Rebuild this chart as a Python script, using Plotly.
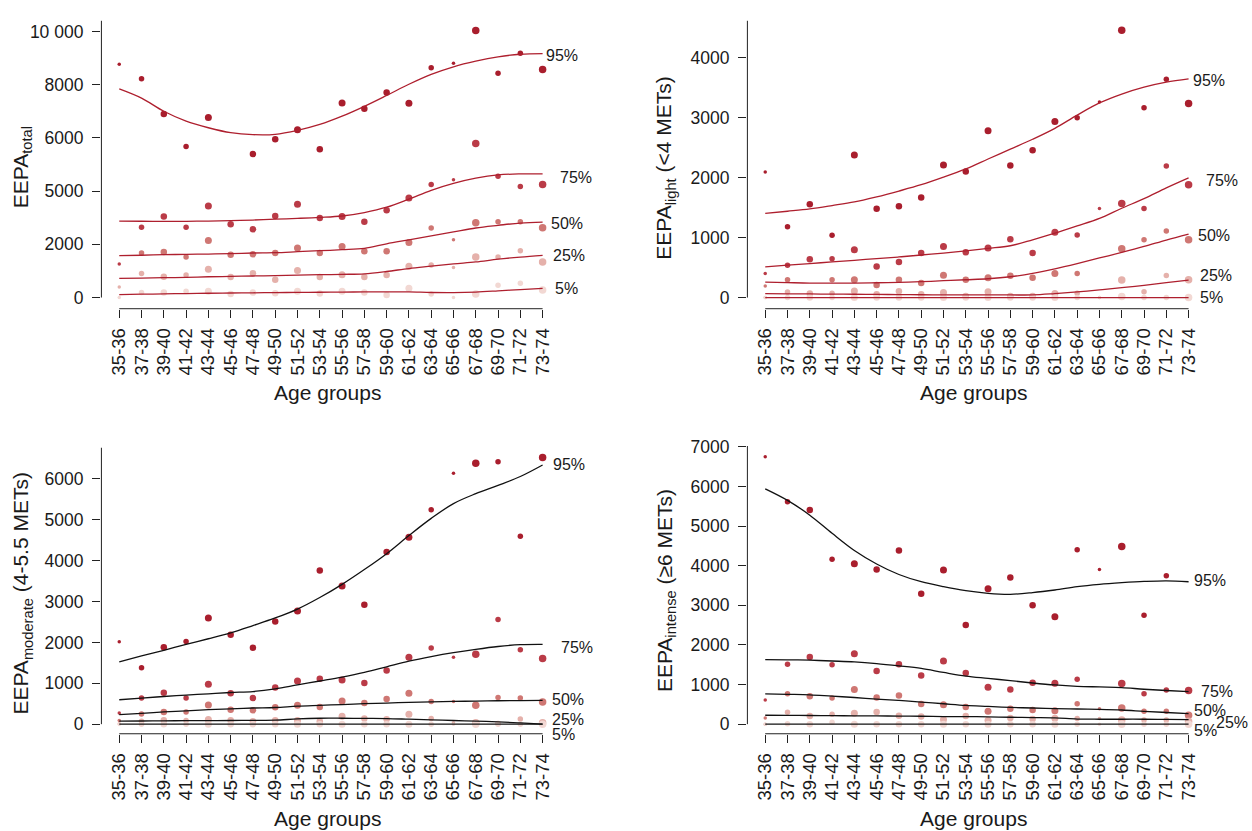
import plotly.graph_objects as go

# ---------------- data ----------------
age_groups = ["35-36", "37-38", "39-40", "41-42", "43-44", "45-46", "47-48", "49-50", "51-52", "53-54",
              "55-56", "57-58", "59-60", "61-62", "63-64", "65-66", "67-68", "69-70", "71-72", "73-74"]
percentiles = ["95%", "75%", "50%", "25%", "5%"]

# EEPA total - observed percentiles
total_p95 = [8772, 8227, 6901, 5675, 6765, None, 5390, 5947, 6307, 5576, 7310, 7099, 7706, 7298, 8636, 8809, 10036, 8425, 9181, 8574]
total_p75 = [1264, 2639, 3048, 2639, 3444, 2750, 2565, 3060, 3506, 2986, 3048, 2850, 3283, 3742, 4250, 4423, 5786, 4559, 4175, 4250]
total_p50 = [None, 1673, 1710, 1524, 2143, 1611, 1623, 1673, 1859, 1673, 1920, 1735, 1735, 2069, 2614, 2168, 2813, 2850, 2850, 2627]
total_p25 = [396, 904, 781, 843, 1066, 768, 917, 669, 1016, 768, 855, 768, 843, 1177, 1227, 1128, 1524, 1524, 1759, 1338]
total_p5 = [0, 186, 186, 235, 235, 136, 186, 161, 235, 149, 235, 186, 99, 347, 136, 0, 136, 458, 533, 285]
# EEPA total - fitted curves
total_fit95 = [7843, 7496, 7000, 6629, 6381, 6195, 6121, 6133, 6282, 6505, 6815, 7186, 7595, 8016, 8388, 8673, 8884, 9045, 9144, 9169]
total_fit75 = [2874, 2868, 2864, 2866, 2874, 2887, 2912, 2945, 2975, 3011, 3065, 3195, 3395, 3700, 4030, 4290, 4485, 4609, 4646, 4646]
total_fit50 = [1574, 1590, 1611, 1623, 1635, 1648, 1673, 1685, 1722, 1760, 1797, 1846, 2020, 2168, 2317, 2466, 2614, 2713, 2800, 2837]
total_fit25 = [719, 730, 745, 760, 781, 795, 810, 826, 843, 858, 872, 892, 979, 1090, 1177, 1264, 1338, 1440, 1520, 1586]
total_fit5 = [111, 125, 138, 150, 161, 170, 178, 186, 192, 198, 204, 211, 211, 211, 190, 186, 205, 250, 300, 347]

# EEPA light (<4 METs)
light_p95 = [2096, 1183, 1557, 1040, 2377, 1480, 1524, 1667, 2212, 2102, 2784, 2201, 2459, 2938, 2999, 3263, 4457, 3164, 3642, 3235]
light_p75 = [401, 539, 638, 649, 798, 517, 594, 743, 853, 754, 825, 974, 743, 1089, 1045, 1486, 1568, 1486, 2195, 1882]
light_p50 = [193, 297, None, 297, 297, 209, 297, 242, 374, 297, 330, 363, 330, 402, 402, None, 814, 963, 1111, 963]
light_p25 = [0, 94, 66, 72, 110, 55, 105, 55, 83, 28, 99, 28, 28, 66, 72, 0, 292, 99, 369, 297]
light_p5 = [0, 0, 0, 0, 0, 0, 0, 0, 0, 0, 0, 0, 0, 0, 0, 0, 17, 0, 0, 0]
light_fit95 = [1403, 1440, 1480, 1535, 1595, 1680, 1777, 1882, 2008, 2146, 2311, 2476, 2641, 2823, 3043, 3246, 3395, 3510, 3593, 3648]
light_fit75 = [512, 540, 567, 595, 622, 650, 677, 710, 743, 780, 820, 864, 963, 1073, 1194, 1320, 1490, 1650, 1830, 1997]
light_fit50 = [259, 250, 242, 242, 242, 247, 253, 265, 281, 297, 314, 347, 402, 479, 567, 660, 754, 853, 960, 1060]
light_fit25 = [66, 63, 60, 57, 55, 52, 50, 47, 44, 44, 44, 44, 44, 66, 94, 127, 165, 204, 250, 292]
light_fit5 = [0, 0, 0, 0, 0, 0, 0, 0, 0, 0, 0, 0, 0, 0, 0, 0, 0, 0, 0, 0]

# EEPA moderate (4-5.5 METs)
mod_p95 = [2016, 1379, 1879, 2024, 2597, 2186, 1871, 2508, 2766, 3758, 3379, 2919, 4210, 4573, 5242, 6137, 6379, 6420, 4597, 6525]
mod_p75 = [274, 637, 766, 637, 976, 758, 637, 895, 1056, 1113, 1081, 1008, 1315, 1637, 1863, 1637, 1710, 2557, 1823, 1605]
mod_p50 = [89, 250, 298, 298, 468, 355, 339, 411, 460, 419, 565, 516, 613, 758, 556, 556, 460, 653, 637, 540]
mod_p25 = [8, 73, 97, 89, 113, 97, 73, 97, 89, 73, 194, 137, 121, 242, 137, 32, 32, 16, 129, 32]
mod_p5 = [0, 0, 0, 0, 0, 0, 0, 0, 0, 0, 0, 0, 0, 0, 0, 0, 0, 0, 0, 0]
mod_fit95 = [1524, 1669, 1807, 1952, 2089, 2234, 2411, 2597, 2815, 3097, 3420, 3782, 4170, 4613, 5033, 5395, 5637, 5839, 6057, 6339]
mod_fit75 = [597, 637, 677, 710, 742, 774, 798, 863, 960, 1056, 1153, 1266, 1403, 1540, 1653, 1750, 1831, 1900, 1945, 1952]
mod_fit50 = [234, 266, 298, 327, 355, 375, 395, 407, 440, 460, 480, 500, 516, 532, 545, 556, 565, 573, 578, 580]
mod_fit25 = [73, 77, 81, 85, 87, 89, 93, 97, 129, 145, 145, 140, 137, 121, 105, 89, 73, 56, 30, 0]
mod_fit5 = [0, 0, 0, 0, 0, 0, 0, 0, 0, 0, 0, 0, 0, 0, 0, 0, 0, 0, 0, 0]

# EEPA intense (>=6 METs)
int_p95 = [6750, 5618, 5410, 4162, 4053, 3903, 4386, 3296, 3895, 2505, 3421, 3704, 3005, 2713, 4403, 3903, 4486, 2747, 3746, None]
int_p75 = [608, 1515, 1698, 1498, 1781, 1340, 1515, 1232, 1598, 1290, 932, 874, 1049, 1032, 1132, None, 1024, 766, 866, 849]
int_p50 = [158, 766, 707, 658, 874, 674, 724, 508, 491, 433, 325, 391, 358, 341, 516, 391, 408, 325, 325, 225]
int_p25 = [0, 300, 208, 250, 275, 308, 216, 191, 117, 208, 100, 158, 133, 150, 141, 141, 108, 108, 108, 75]
int_p5 = [0, 8, 0, 50, 0, 0, 0, 0, 0, 0, 0, 0, 0, 0, 0, 0, 0, 0, 0, 0]
int_fit95 = [5942, 5651, 5277, 4819, 4386, 4045, 3779, 3596, 3471, 3371, 3304, 3279, 3321, 3387, 3471, 3529, 3571, 3604, 3620, 3596]
int_fit75 = [1631, 1625, 1615, 1595, 1573, 1531, 1473, 1407, 1307, 1215, 1157, 1099, 1040, 990, 957, 940, 924, 882, 850, 824]
int_fit50 = [766, 755, 741, 707, 674, 632, 599, 558, 516, 474, 449, 424, 408, 391, 383, 375, 358, 325, 295, 266]
int_fit25 = [225, 222, 219, 216, 210, 208, 205, 200, 193, 191, 185, 175, 166, 158, 130, 125, 125, 125, 120, 116]
int_fit5 = [0, 0, 0, 0, 0, 0, 0, 0, 0, 0, 0, 0, 0, 0, 0, 0, 0, 0, 0, 0]

# y tick labels (as printed in the original figure)
total_ticks = [0, 2000, 4000, 6000, 8000, 10000]
total_ticktext = ["0", "2000", "5000", "6000", "8000", "10 000"]
light_ticks = [0, 1000, 2000, 3000, 4000]
mod_ticks = [0, 1000, 2000, 3000, 4000, 5000, 6000]
int_ticks = [0, 1000, 2000, 3000, 4000, 5000, 6000, 7000]

# ---------------- styling ----------------
W, H = 1252, 831
FONT = "Liberation Sans, Arial, Helvetica, sans-serif"
TXT = "#1a1a1a"
dot_colors = ["#A91E2D", "#BA3B47", "#CF7773", "#E5B1AB", "#F2D8D3"]
marker_sizes = [3.5, 5.5, 6.5, 5.5, 7, 6.5, 6.5, 6.5, 7, 6.5, 7, 6.5, 6.5, 7, 5.5, 3.5, 7.5, 5.5, 5.5, 7.5]
X_RANGE = [-0.8, 19.4]
PX_PER_CAT = 22.3

panels = [
    dict(points=[total_p95, total_p75, total_p50, total_p25, total_p5],
         fits=[total_fit95, total_fit75, total_fit50, total_fit25, total_fit5],
         ticks=total_ticks, ticktext=total_ticktext,
         left=101.5, top=11.7, bottom=303, yrange=[-420, 10409], line="#AE1F2E",
         title="EEPA<sub>total</sub>", title_x=22, title_y=160, xtitle_y=387.5,
         lab_y=[9097, 4524, 2777, 1587, 323], lab_dx=[1, 15, 6, 8, 10]),
    dict(points=[light_p95, light_p75, light_p50, light_p25, light_p5],
         fits=[light_fit95, light_fit75, light_fit50, light_fit25, light_fit5],
         ticks=light_ticks, ticktext=[str(v) for v in light_ticks],
         left=748, top=11.7, bottom=303, yrange=[-186, 4620], line="#AE1F2E",
         title="EEPA<sub>light</sub> (&lt;4 METs)", title_x=666, title_y=160, xtitle_y=387.5,
         lab_y=[3625, 1959, 1035, 375, 0], lab_dx=[2, 15, 7, 9, 9]),
    dict(points=[mod_p95, mod_p75, mod_p50, mod_p25, mod_p5],
         fits=[mod_fit95, mod_fit75, mod_fit50, mod_fit25, mod_fit5],
         ticks=mod_ticks, ticktext=[str(v) for v in mod_ticks],
         left=101.5, top=443.3, bottom=732.7, yrange=[-235, 6767], line="#111111",
         title="EEPA<sub>moderate</sub> (4-5.5 METs)", title_x=22, title_y=590, xtitle_y=818,
         lab_y=[6339, 1887, 605, 121, -242], lab_dx=[8, 16, 7, 7, 7]),
    dict(points=[int_p95, int_p75, int_p50, int_p25, int_p5],
         fits=[int_fit95, int_fit75, int_fit50, int_fit25, int_fit5],
         ticks=int_ticks, ticktext=[str(v) for v in int_ticks],
         left=748, top=441.7, bottom=732.7, yrange=[-242, 7025], line="#111111",
         title="EEPA<sub>intense</sub> (≥6 METs)", title_x=666, title_y=588, xtitle_y=818,
         lab_y=[3621, 824, 350, 50, -150], lab_dx=[3, 10, 3, 25, 3]),
]

fig = go.Figure()
x_idx = list(range(len(age_groups)))
width_px = (X_RANGE[1] - X_RANGE[0]) * PX_PER_CAT
annotations = []
shapes = []

for k, p in enumerate(panels, start=1):
    xa = "x" if k == 1 else f"x{k}"
    ya = "y" if k == 1 else f"y{k}"
    y0, y1 = p["yrange"]
    px_per_unit = (p["bottom"] - p["top"]) / (y1 - y0)
    x_last_px = p["left"] + (19 - X_RANGE[0]) * PX_PER_CAT
    # points
    for j in range(5):
        fig.add_trace(go.Scatter(
            x=x_idx, y=p["points"][j], mode="markers", xaxis=xa, yaxis=ya,
            marker=dict(color=dot_colors[j], size=marker_sizes, opacity=1, line=dict(width=0)),
            showlegend=False, hoverinfo="skip", cliponaxis=False))
    # fitted curves + percentile labels
    for j in range(5):
        fig.add_trace(go.Scatter(
            x=x_idx, y=p["fits"][j], mode="lines", xaxis=xa, yaxis=ya,
            line=dict(color=p["line"], width=1.3, shape="spline", smoothing=1.0),
            showlegend=False, hoverinfo="skip", cliponaxis=False))
        lab_px_x = x_last_px + p["lab_dx"][j]
        lab_px_y = p["bottom"] - (p["lab_y"][j] - y0) * px_per_unit
        annotations.append(dict(
            x=lab_px_x / W, y=1 - lab_px_y / H, xref="paper", yref="paper",
            text=percentiles[j], showarrow=False, xanchor="left", yanchor="middle",
            font=dict(family=FONT, size=16, color=TXT)))

    xdom = [p["left"] / W, (p["left"] + width_px) / W]
    ydom = [1 - p["bottom"] / H, 1 - p["top"] / H]
    axis_x = dict(domain=xdom, range=X_RANGE, anchor=ya, tickmode="array",
                  tickvals=x_idx, ticktext=age_groups, tickangle=-90,
                  ticks="outside", ticklen=8, tickwidth=1, tickcolor="#222",
                  ticklabelstandoff=3,
                  showline=False, showgrid=False, zeroline=False,
                  tickfont=dict(family=FONT, size=18.5, color=TXT))
    axis_y = dict(domain=ydom, range=p["yrange"], anchor=xa, tickmode="array",
                  tickvals=p["ticks"], ticktext=p["ticktext"],
                  ticks="outside", ticklen=8.5, tickwidth=1, tickcolor="#222",
                  ticklabelstandoff=5,
                  showline=False, showgrid=False, zeroline=False,
                  tickfont=dict(family=FONT, size=17.5, color=TXT))
    fig.update_layout(**{("xaxis" if k == 1 else f"xaxis{k}"): axis_x,
                         ("yaxis" if k == 1 else f"yaxis{k}"): axis_y})
    # detached axis lines (R style)
    shapes.append(dict(type="line", xref=f"{xa} domain", yref=ya, x0=0, x1=0,
                       y0=0, y1=y1, line=dict(color="#222", width=1)))
    shapes.append(dict(type="line", xref=xa, yref=f"{ya} domain", x0=0, x1=19,
                       y0=0, y1=0, line=dict(color="#222", width=1)))
    # axis titles
    annotations.append(dict(x=p["title_x"] / W, y=1 - p["title_y"] / H, xref="paper", yref="paper",
                            text=p["title"], textangle=-90, showarrow=False,
                            xanchor="center", yanchor="middle",
                            font=dict(family=FONT, size=21, color=TXT)))
    annotations.append(dict(x=(p["left"] + (9.5 - X_RANGE[0]) * PX_PER_CAT - 3) / W,
                            y=1 - p["xtitle_y"] / H, xref="paper", yref="paper",
                            text="Age groups", showarrow=False, xanchor="center", yanchor="middle",
                            font=dict(family=FONT, size=21, color=TXT)))

fig.update_layout(width=W, height=H, margin=dict(l=0, r=0, t=0, b=0),
                  paper_bgcolor="white", plot_bgcolor="white",
                  annotations=annotations, shapes=shapes, showlegend=False,
                  font=dict(family=FONT, color=TXT))

fig.write_html("out.html", config={"displayModeBar": False},
               post_script="document.body.style.margin='0';document.body.style.overflow='hidden';")
